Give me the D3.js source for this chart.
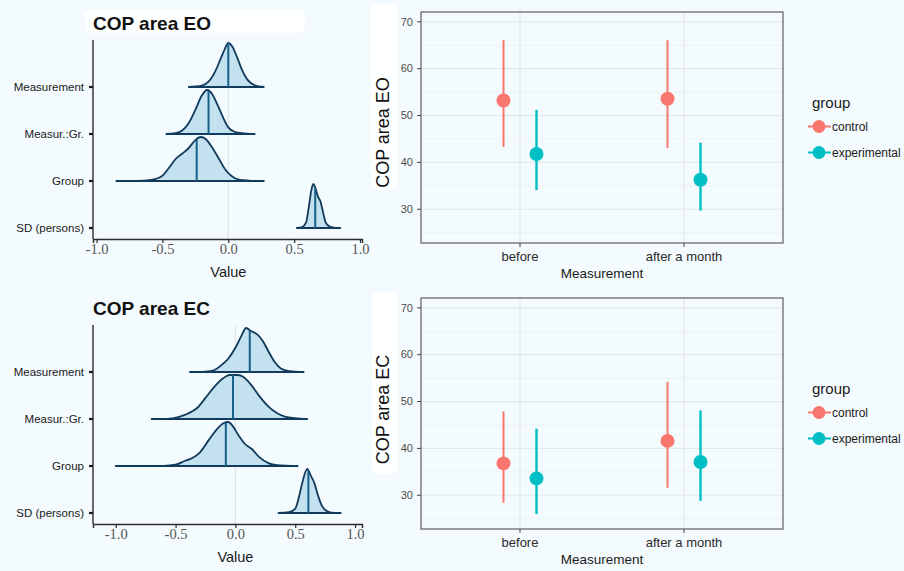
<!DOCTYPE html>
<html>
<head>
<meta charset="utf-8">
<script src="https://cdn.jsdelivr.net/npm/d3@7"></script>
<style>
  html, body { margin: 0; padding: 0; background: #f4fbfe; }
  svg { display: block; }
  text { font-family: "Liberation Sans", Arial, Helvetica, sans-serif; }
  text.serif { font-family: "Liberation Serif", "Times New Roman", serif; }
</style>
</head>
<body>
<svg id="chart" width="904" height="571"></svg>
<script>
// ---- posterior summaries (ridgelines) ----
const ridgeTerms = ["Measurement", "Measur.:Gr.", "Group", "SD (persons)"];
const ridgeTicks = [-1.0, -0.5, 0.0, 0.5, 1.0];

// relative posterior density, [value, height]
const eoMeasurement = [[-0.30,0],[-0.20,0.03],[-0.15,0.12],[-0.10,0.35],[-0.05,0.70],[-0.03,0.84],[0.00,1.0],[0.03,0.92],[0.07,0.65],[0.10,0.42],[0.15,0.15],[0.20,0.04],[0.27,0]];
const eoMeasGr = [[-0.47,0],[-0.40,0.02],[-0.35,0.08],[-0.30,0.25],[-0.25,0.55],[-0.20,0.88],[-0.16,1.0],[-0.12,0.9],[-0.08,0.65],[-0.04,0.38],[0.00,0.15],[0.05,0.05],[0.10,0.02],[0.20,0]];
const eoGroup = [[-0.85,0],[-0.70,0.005],[-0.60,0.02],[-0.55,0.05],[-0.50,0.12],[-0.45,0.30],[-0.40,0.50],[-0.35,0.62],[-0.30,0.75],[-0.25,0.93],[-0.21,1.0],[-0.17,0.95],[-0.12,0.75],[-0.07,0.50],[-0.02,0.25],[0.03,0.10],[0.08,0.03],[0.15,0.01],[0.27,0]];
const eoSD = [[0.52,0],[0.56,0.02],[0.59,0.12],[0.61,0.45],[0.63,0.85],[0.645,1.0],[0.66,0.92],[0.68,0.72],[0.70,0.60],[0.72,0.35],[0.74,0.12],[0.77,0.03],[0.80,0.01],[0.85,0]];
const eoMedians = [0.0, -0.15, -0.24, 0.66];

const ecMeasurement = [[-0.38,0],[-0.25,0.01],[-0.18,0.04],[-0.12,0.15],[-0.06,0.30],[0.00,0.55],[0.05,0.82],[0.09,1.0],[0.13,0.93],[0.18,0.86],[0.23,0.70],[0.28,0.45],[0.33,0.22],[0.38,0.08],[0.45,0.02],[0.57,0]];
const ecMeasGr = [[-0.70,0],[-0.55,0.01],[-0.47,0.05],[-0.40,0.12],[-0.32,0.25],[-0.25,0.48],[-0.18,0.72],[-0.10,0.93],[-0.05,1.0],[0.02,1.0],[0.07,0.95],[0.13,0.78],[0.20,0.52],[0.27,0.30],[0.35,0.13],[0.42,0.05],[0.50,0.02],[0.60,0]];
const ecGroup = [[-1.00,0],[-0.60,0.005],[-0.50,0.03],[-0.42,0.12],[-0.36,0.18],[-0.30,0.30],[-0.22,0.60],[-0.15,0.85],[-0.10,0.97],[-0.06,1.0],[-0.02,0.90],[0.03,0.68],[0.08,0.50],[0.14,0.38],[0.20,0.20],[0.28,0.06],[0.35,0.02],[0.52,0]];
const ecSD = [[0.36,0],[0.45,0.02],[0.50,0.10],[0.53,0.35],[0.56,0.70],[0.60,1.0],[0.63,0.85],[0.66,0.68],[0.69,0.40],[0.72,0.18],[0.76,0.05],[0.80,0.01],[0.88,0]];
const ecMedians = [0.12, -0.02, -0.08, 0.61];

// ---- group means with intervals ----
const measurements = ["before", "after a month"];
const groups = ["control", "experimental"];
const groupColors = ["#f8766d", "#00bfc4"];
const copTicks = [30, 40, 50, 60, 70];
const copMinor = [25, 35, 45, 55, 65];

const eoControlMean = [53.2, 53.6];
const eoControlLow  = [43.3, 43.1];
const eoControlHigh = [66.1, 66.1];
const eoExpMean = [41.8, 36.3];
const eoExpLow  = [34.1, 29.7];
const eoExpHigh = [51.2, 44.2];

const ecControlMean = [36.8, 41.6];
const ecControlLow  = [28.4, 31.6];
const ecControlHigh = [47.9, 54.2];
const ecExpMean = [33.6, 37.1];
const ecExpLow  = [26.0, 28.8];
const ecExpHigh = [44.2, 48.1];

const svg = d3.select("#chart");

// soft white patches behind some labels
[[85, 10, 220, 23], [371, 4, 26, 186], [372, 292, 25, 182]].forEach(r => {
  svg.append("rect").attr("x", r[0]).attr("y", r[1]).attr("width", r[2]).attr("height", r[3])
    .attr("rx", 5).attr("fill", "#ffffff").attr("opacity", 0.85);
});

const fmtTick = v => d3.format(".1f")(v).replace("\u2212", "-");

function ridgePanel(cfg) {
  const g = svg.append("g");
  const x = d3.scaleLinear().domain(cfg.xDomain).range([93, 362]);
  const y = d3.scalePoint().domain(ridgeTerms).range([cfg.top + 47, cfg.top + 188]);
  const axisY = cfg.top + 199;
  const H = 44;

  // zero reference line
  g.append("line").attr("x1", x(0)).attr("x2", x(0))
    .attr("y1", cfg.top).attr("y2", axisY)
    .attr("stroke", "#dde4e8").attr("stroke-width", 1.2);

  cfg.densities.forEach((dens, i) => {
    const base = y(ridgeTerms[i]);
    const area = d3.area().curve(d3.curveMonotoneX)
      .x(d => x(d[0])).y0(base).y1(d => base - d[1] * H);
    g.append("path").datum(dens).attr("d", area)
      .attr("fill", "#c3e1ee").attr("stroke", "#113a5c")
      .attr("stroke-width", 1.8).attr("stroke-linejoin", "round");
    // median marker
    const m = cfg.medians[i];
    let h = 0;
    for (let k = 1; k < dens.length; k++) {
      if (m <= dens[k][0]) {
        const t = (m - dens[k-1][0]) / (dens[k][0] - dens[k-1][0]);
        h = dens[k-1][1] + t * (dens[k][1] - dens[k-1][1]);
        break;
      }
    }
    g.append("line").attr("x1", x(m)).attr("x2", x(m))
      .attr("y1", base).attr("y2", base - h * H)
      .attr("stroke", "#16608a").attr("stroke-width", 2);
  });

  // y axis
  g.append("line").attr("x1", 93).attr("x2", 93).attr("y1", cfg.top).attr("y2", axisY)
    .attr("stroke", "#2b2b2b").attr("stroke-width", 1.4);
  ridgeTerms.forEach(t => {
    g.append("line").attr("x1", 89).attr("x2", 93).attr("y1", y(t)).attr("y2", y(t))
      .attr("stroke", "#1a1a1a").attr("stroke-width", 2.2);
    g.append("text").attr("x", 84).attr("y", y(t) + 4).attr("text-anchor", "end")
      .attr("font-size", 11.5).attr("fill", "#1a1a1a").text(t);
  });

  // x axis
  const ax = g.append("g").attr("transform", `translate(0,${axisY})`)
    .call(d3.axisBottom(x).tickValues(ridgeTicks).tickFormat(fmtTick).tickSizeOuter(0).tickSize(4));
  ax.select(".domain").attr("stroke", "#2b2b2b").attr("stroke-width", 1.4);
  ax.selectAll(".tick line").attr("stroke", "#2b2b2b").attr("stroke-width", 1.2);
  ax.selectAll(".tick text").attr("class", "serif")
    .attr("font-size", 14.5).attr("fill", "#555").attr("dy", "0.55em");

  g.append("text").attr("x", x(0)).attr("y", axisY + 38).attr("text-anchor", "middle")
    .attr("font-size", 14.5).attr("fill", "#1a1a1a").text("Value");

  g.append("text").attr("x", 93).attr("y", cfg.top - 10)
    .attr("font-size", 19).attr("font-weight", "bold").attr("fill", "#111").text(cfg.title);
}

ridgePanel({
  top: 40, title: "COP area EO", xDomain: [-1.027, 1.015],
  densities: [eoMeasurement, eoMeasGr, eoGroup, eoSD], medians: eoMedians
});
ridgePanel({
  top: 325, title: "COP area EC", xDomain: [-1.19, 1.058],
  densities: [ecMeasurement, ecMeasGr, ecGroup, ecSD], medians: ecMedians
});

function meansPanel(cfg) {
  const g = svg.append("g");
  const left = 421, right = 783;
  const x = d3.scalePoint().domain(measurements).range([520, 684]);
  const y = d3.scaleLinear().domain([22.8, 72.1]).range([cfg.bottom, cfg.top]);
  const dodge = 16.5;

  copMinor.forEach(v => {
    g.append("line").attr("x1", left).attr("x2", right).attr("y1", y(v)).attr("y2", y(v))
      .attr("stroke", "#e9eff2").attr("stroke-width", 0.8);
  });
  copTicks.forEach(v => {
    g.append("line").attr("x1", left).attr("x2", right).attr("y1", y(v)).attr("y2", y(v))
      .attr("stroke", "#e1e8eb").attr("stroke-width", 1.2);
  });
  measurements.forEach(m => {
    g.append("line").attr("x1", x(m)).attr("x2", x(m)).attr("y1", cfg.top).attr("y2", cfg.bottom)
      .attr("stroke", "#e1e8eb").attr("stroke-width", 1.2);
  });

  const series = [
    { mean: cfg.cMean, low: cfg.cLow, high: cfg.cHigh, off: -dodge, color: groupColors[0], w: 2 },
    { mean: cfg.eMean, low: cfg.eLow, high: cfg.eHigh, off: dodge, color: groupColors[1], w: 2.4 }
  ];
  series.forEach(s => {
    measurements.forEach((m, i) => {
      g.append("line").attr("x1", x(m) + s.off).attr("x2", x(m) + s.off)
        .attr("y1", y(s.low[i])).attr("y2", y(s.high[i]))
        .attr("stroke", s.color).attr("stroke-width", s.w);
      g.append("circle").attr("cx", x(m) + s.off).attr("cy", y(s.mean[i])).attr("r", 7)
        .attr("fill", s.color);
    });
  });

  g.append("rect").attr("x", left).attr("y", cfg.top).attr("width", right - left)
    .attr("height", cfg.bottom - cfg.top).attr("fill", "none")
    .attr("stroke", "#5e5e5e").attr("stroke-width", 1.2);

  // y axis
  copTicks.forEach(v => {
    g.append("line").attr("x1", left - 4).attr("x2", left).attr("y1", y(v)).attr("y2", y(v))
      .attr("stroke", "#444").attr("stroke-width", 1);
    g.append("text").attr("x", left - 8).attr("y", y(v) + 3.8).attr("text-anchor", "end")
      .attr("font-size", 11).attr("fill", "#4d4d4d").text(v);
  });
  // x axis
  measurements.forEach(m => {
    g.append("line").attr("x1", x(m)).attr("x2", x(m)).attr("y1", cfg.bottom).attr("y2", cfg.bottom + 4)
      .attr("stroke", "#444").attr("stroke-width", 1);
    g.append("text").attr("x", x(m)).attr("y", cfg.bottom + 18).attr("text-anchor", "middle")
      .attr("font-size", 13).attr("fill", "#2a2a2a").text(m);
  });
  g.append("text").attr("x", 602).attr("y", cfg.bottom + 35).attr("text-anchor", "middle")
    .attr("font-size", 13.5).attr("fill", "#1a1a1a").text("Measurement");
  const mid = (cfg.top + cfg.bottom) / 2;
  g.append("text").attr("transform", `translate(389,${mid + cfg.titleShift}) rotate(-90)`)
    .attr("text-anchor", "middle").attr("font-size", 18).attr("fill", "#111").text(cfg.yTitle);

  // legend
  g.append("text").attr("x", 812).attr("y", mid - 20).attr("font-size", 15)
    .attr("fill", "#1a1a1a").text("group");
  groups.forEach((gr, i) => {
    const ly = mid - 1 + i * 26;
    g.append("line").attr("x1", 808).attr("x2", 831).attr("y1", ly).attr("y2", ly)
      .attr("stroke", groupColors[i]).attr("stroke-width", 2);
    g.append("circle").attr("cx", 819).attr("cy", ly).attr("r", 6.5).attr("fill", groupColors[i]);
    g.append("text").attr("x", 832).attr("y", ly + 4).attr("font-size", 12)
      .attr("fill", "#1a1a1a").text(gr);
  });
}

meansPanel({
  top: 12, bottom: 243, yTitle: "COP area EO", titleShift: 5,
  cMean: eoControlMean, cLow: eoControlLow, cHigh: eoControlHigh,
  eMean: eoExpMean, eLow: eoExpLow, eHigh: eoExpHigh
});
meansPanel({
  top: 298, bottom: 529, yTitle: "COP area EC", titleShift: -4,
  cMean: ecControlMean, cLow: ecControlLow, cHigh: ecControlHigh,
  eMean: ecExpMean, eLow: ecExpLow, eHigh: ecExpHigh
});
</script>
</body>
</html>
